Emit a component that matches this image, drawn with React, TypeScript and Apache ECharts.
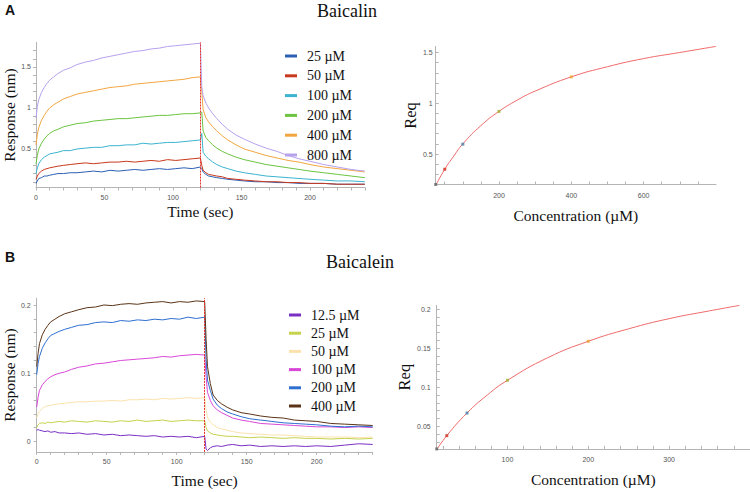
import React, { useEffect, useRef } from "react";
import * as echarts from "echarts";

// ---------- shared time axis of the sensorgrams (sec) ----------
const TIME = [0, 1, 2, 4, 6, 8, 10, 13, 16, 20, 25, 30, 36, 42, 48, 54, 60, 66, 72, 78, 84, 90, 96, 102, 108, 114, 120,
  121, 122, 124, 126, 129, 132, 136, 140, 146, 152, 160, 168, 176, 184, 192, 200, 210, 220, 230, 240];

// ---------- A: Baicalin sensorgram (nm) ----------
const A_NAMES = ["25 µM", "50 µM", "100 µM", "200 µM", "400 µM", "800 µM"];
const A_COLORS = ["#2b5fb4", "#c8381c", "#3cb4cf", "#6cc440", "#f2a640", "#b7a2ee"];
const A_25 = [0.08, 0.11, 0.14, 0.15, 0.17, 0.17, 0.18, 0.19, 0.20, 0.20, 0.21, 0.21, 0.22, 0.23, 0.22, 0.24, 0.23, 0.24, 0.25, 0.24, 0.25, 0.26, 0.25, 0.26, 0.27, 0.26, 0.28,
  0.26, 0.22, 0.19, 0.17, 0.16, 0.15, 0.14, 0.13, 0.12, 0.11, 0.10, 0.10, 0.09, 0.09, 0.08, 0.08, 0.08, 0.07, 0.07, 0.07];
const A_50 = [0.13, 0.17, 0.20, 0.23, 0.25, 0.26, 0.27, 0.28, 0.29, 0.30, 0.31, 0.32, 0.33, 0.32, 0.33, 0.34, 0.34, 0.35, 0.34, 0.35, 0.36, 0.35, 0.37, 0.36, 0.37, 0.38, 0.39,
  0.30, 0.24, 0.21, 0.19, 0.18, 0.17, 0.16, 0.14, 0.13, 0.12, 0.11, 0.10, 0.10, 0.09, 0.09, 0.08, 0.08, 0.07, 0.07, 0.07];
const A_100 = [0.20, 0.27, 0.32, 0.37, 0.40, 0.42, 0.44, 0.45, 0.46, 0.48, 0.48, 0.50, 0.51, 0.52, 0.52, 0.54, 0.54, 0.55, 0.55, 0.57, 0.56, 0.57, 0.58, 0.58, 0.59, 0.60, 0.61,
  0.69, 0.46, 0.41, 0.38, 0.34, 0.31, 0.28, 0.26, 0.23, 0.21, 0.19, 0.17, 0.16, 0.15, 0.14, 0.13, 0.12, 0.11, 0.11, 0.10];
const A_200 = [0.32, 0.42, 0.50, 0.57, 0.62, 0.66, 0.69, 0.72, 0.74, 0.77, 0.79, 0.81, 0.82, 0.84, 0.85, 0.86, 0.87, 0.87, 0.88, 0.89, 0.90, 0.91, 0.91, 0.92, 0.93, 0.93, 0.94,
  0.95, 0.72, 0.64, 0.60, 0.55, 0.51, 0.47, 0.44, 0.40, 0.37, 0.34, 0.31, 0.29, 0.27, 0.25, 0.23, 0.21, 0.19, 0.17, 0.15];
const A_400 = [0.55, 0.68, 0.76, 0.85, 0.91, 0.96, 1.00, 1.04, 1.07, 1.11, 1.14, 1.17, 1.19, 1.21, 1.23, 1.25, 1.26, 1.27, 1.29, 1.30, 1.31, 1.32, 1.33, 1.34, 1.35, 1.37, 1.38,
  1.20, 0.98, 0.88, 0.83, 0.77, 0.72, 0.66, 0.61, 0.55, 0.50, 0.46, 0.42, 0.39, 0.36, 0.34, 0.31, 0.28, 0.26, 0.24, 0.22];
const A_800 = [0.88, 1.02, 1.10, 1.19, 1.25, 1.30, 1.34, 1.38, 1.42, 1.46, 1.49, 1.53, 1.56, 1.58, 1.61, 1.63, 1.65, 1.67, 1.69, 1.70, 1.72, 1.73, 1.75, 1.76, 1.77, 1.78, 1.79,
  1.26, 1.15, 1.06, 1.00, 0.93, 0.87, 0.80, 0.74, 0.67, 0.62, 0.56, 0.51, 0.47, 0.42, 0.38, 0.35, 0.31, 0.28, 0.25, 0.23];
const A_SERIES = [A_25, A_50, A_100, A_200, A_400, A_800];

// ---------- B: Baicalein sensorgram (nm) ----------
const B_NAMES = ["12.5 µM", "25 µM", "50 µM", "100 µM", "200 µM", "400 µM"];
const B_COLORS = ["#7a2fc4", "#c4d24c", "#fbe2ac", "#d848d8", "#2e6fcf", "#5b3417"];
const B_12 = [0.016, 0.017, 0.016, 0.015, 0.014, 0.015, 0.013, 0.014, 0.012, 0.012, 0.011, 0.012, 0.010, 0.011, 0.009, 0.010, 0.008, 0.009, 0.008, 0.007, 0.008, 0.006, 0.007, 0.006, 0.007, 0.005, 0.007,
  -0.012, -0.014, -0.010, -0.008, -0.007, -0.008, -0.006, -0.005, -0.007, -0.006, -0.008, -0.007, -0.008, -0.007, -0.008, -0.007, -0.008, -0.006, -0.004, -0.005];
const B_25 = [0.020, 0.024, 0.026, 0.027, 0.026, 0.028, 0.027, 0.028, 0.029, 0.028, 0.030, 0.029, 0.028, 0.030, 0.029, 0.028, 0.030, 0.029, 0.031, 0.029, 0.030, 0.031, 0.029, 0.030, 0.031, 0.030, 0.030,
  0.020, 0.015, 0.012, 0.010, 0.009, 0.008, 0.007, 0.007, 0.006, 0.005, 0.006, 0.005, 0.004, 0.005, 0.004, 0.004, 0.003, 0.004, 0.003, 0.004];
const B_50 = [0.034, 0.040, 0.044, 0.048, 0.051, 0.052, 0.053, 0.054, 0.055, 0.056, 0.057, 0.058, 0.058, 0.059, 0.059, 0.060, 0.059, 0.061, 0.061, 0.062, 0.061, 0.063, 0.062, 0.063, 0.064, 0.063, 0.064,
  0.045, 0.035, 0.028, 0.024, 0.020, 0.018, 0.016, 0.014, 0.012, 0.011, 0.010, 0.009, 0.009, 0.008, 0.007, 0.006, 0.006, 0.006, 0.005, 0.006];
const B_100 = [0.050, 0.065, 0.075, 0.083, 0.088, 0.092, 0.095, 0.098, 0.100, 0.102, 0.106, 0.109, 0.111, 0.114, 0.115, 0.117, 0.119, 0.120, 0.121, 0.122, 0.123, 0.125, 0.124, 0.126, 0.127, 0.128, 0.127,
  0.095, 0.072, 0.060, 0.052, 0.046, 0.042, 0.038, 0.034, 0.031, 0.029, 0.026, 0.025, 0.024, 0.023, 0.022, 0.021, 0.021, 0.020, 0.021, 0.020];
const B_200 = [0.098, 0.115, 0.125, 0.137, 0.145, 0.151, 0.156, 0.159, 0.162, 0.165, 0.168, 0.171, 0.172, 0.175, 0.176, 0.175, 0.178, 0.177, 0.179, 0.178, 0.180, 0.179, 0.181, 0.180, 0.183, 0.181, 0.183,
  0.120, 0.090, 0.075, 0.062, 0.053, 0.048, 0.043, 0.040, 0.036, 0.033, 0.031, 0.029, 0.027, 0.026, 0.025, 0.024, 0.022, 0.021, 0.022, 0.021];
const B_400 = [0.110, 0.130, 0.144, 0.157, 0.165, 0.171, 0.176, 0.180, 0.184, 0.188, 0.191, 0.194, 0.197, 0.198, 0.201, 0.200, 0.202, 0.203, 0.202, 0.204, 0.205, 0.206, 0.204, 0.206, 0.205, 0.207, 0.206,
  0.150, 0.110, 0.085, 0.068, 0.060, 0.055, 0.050, 0.046, 0.042, 0.040, 0.037, 0.035, 0.034, 0.031, 0.030, 0.029, 0.026, 0.025, 0.024, 0.023];
const B_SERIES = [B_12, B_25, B_50, B_100, B_200, B_400];

// ---------- Req vs concentration ----------
const A_CONC = [25, 50, 100, 200, 400];
const A_REQ = [0.2, 0.35, 0.597, 0.92, 1.26];
const A_FIT_X = [25, 50, 75, 100, 150, 200, 250, 300, 400, 500, 600, 700, 800];
const A_FIT_Y = [0.19, 0.35, 0.48, 0.6, 0.78, 0.92, 1.03, 1.12, 1.26, 1.36, 1.44, 1.5, 1.56];
const B_CONC = [12.5, 25, 50, 100, 200];
const B_REQ = [0.021, 0.038, 0.067, 0.109, 0.159];
const B_FIT_X = [12.5, 25, 50, 75, 100, 150, 200, 250, 300, 350, 387];
const B_FIT_Y = [0.02, 0.038, 0.067, 0.09, 0.109, 0.138, 0.159, 0.175, 0.188, 0.198, 0.205];
const POINT_COLORS = ["#666666", "#d03020", "#4a7ea8", "#a0b030", "#f0a030"];

// ---------- tick labels ----------
const TIME_LABELS = [0, 50, 100, 150, 200];
const A_RESP_LABELS = [0.5, 1, 1.5];
const B_RESP_LABELS = [0, 0.1, 0.2];
const A_CONC_LABELS = [200, 400, 600];
const A_REQ_LABELS = [0.5, 1, 1.5];
const B_CONC_LABELS = [100, 200, 300];
const B_REQ_LABELS = [0.05, 0.1, 0.15, 0.2];

const steps = (a: number, b: number, d: number) => {
  const out: number[] = [];
  const n = Math.round((b - a) / d);
  for (let i = 0; i <= n; i++) out.push(+(a + i * d).toFixed(4));
  return out;
};

const SERIF = "'Liberation Serif', 'Times New Roman', serif";
const SANS = "'Liberation Sans', Arial, sans-serif";
const AXIS_GRAY = "#b4b4b4";

export default function App() {
  const ref = useRef<HTMLDivElement>(null);

  useEffect(() => {
    if (!ref.current) return;
    const chart = echarts.init(ref.current, undefined, { renderer: "svg" });

    const nameStyle = { fontFamily: SERIF, fontSize: 15.5, color: "#111" };
    const valueAxis = (o: any) => ({
      type: "value",
      gridIndex: o.grid,
      min: o.min,
      max: o.max,
      splitLine: { show: false },
      axisLine: { show: true, onZero: false, lineStyle: { color: AXIS_GRAY, width: 1 } },
      axisTick: { show: true, customValues: o.ticks, length: 3, inside: !!o.inside, lineStyle: { color: AXIS_GRAY } },
      axisLabel: {
        show: true,
        customValues: o.labels,
        fontSize: 7,
        color: "#555",
        fontFamily: SANS,
        margin: o.margin,
      },
      name: o.name,
      nameLocation: "middle",
      nameGap: o.nameGap,
      nameRotate: o.rotate,
      nameTextStyle: { ...nameStyle, fontSize: o.nameSize || 15.5 },
    });

    const sensor = (names: string[], colors: string[], vals: number[][], prefix: string, axis: number) =>
      vals.map((v, k) => ({
        type: "line",
        name: prefix + "|" + names[k],
        xAxisIndex: axis,
        yAxisIndex: axis,
        data: TIME.map((t, i) => [t, v[i]]),
        showSymbol: false,
        symbol: "none",
        lineStyle: { width: 1, color: colors[k] },
        itemStyle: { color: colors[k] },
        z: 2,
        markLine:
          k === 0
            ? {
                silent: true,
                symbol: ["none", "none"],
                label: { show: false },
                lineStyle: { color: "#e8302a", type: [2, 1], width: 1 },
                data: [{ xAxis: 120 }],
                z: 5,
              }
            : undefined,
      }));

    const fit = (xs: number[], ys: number[], axis: number) => ({
      type: "line",
      name: "fit" + axis,
      xAxisIndex: axis,
      yAxisIndex: axis,
      data: xs.map((x, i) => [x, ys[i]]),
      smooth: true,
      showSymbol: false,
      symbol: "none",
      lineStyle: { width: 1, color: "#f06a6a" },
    });
    const pts = (xs: number[], ys: number[], axis: number) => ({
      type: "scatter",
      name: "pts" + axis,
      xAxisIndex: axis,
      yAxisIndex: axis,
      symbol: "rect",
      symbolSize: 3,
      data: xs.map((x, i) => ({ value: [x, ys[i]], itemStyle: { color: POINT_COLORS[i] } })),
      z: 4,
    });

    const legend = (names: string[], prefix: string, left: number, top: number, gap: number) => ({
      orient: "vertical",
      left,
      top,
      itemWidth: 12,
      itemHeight: 3,
      itemGap: gap,
      icon: "rect",
      selectedMode: false,
      data: names.map((n) => prefix + "|" + n),
      formatter: (name: string) => name.split("|")[1],
      textStyle: { fontFamily: SERIF, fontSize: 14, lineHeight: 14, color: "#111", padding: [0, 0, 0, 5] },
    });

    const option: any = {
      animation: false,
      backgroundColor: "#ffffff",
      grid: [
        { left: 36, top: 42.4, width: 328.8, height: 145.1 },
        { left: 435.7, top: 46.4, width: 280.3, height: 138.1 },
        { left: 36.7, top: 298.2, width: 336, height: 153.7 },
        { left: 436.7, top: 305.4, width: 313.9, height: 143.5 },
      ],
      xAxis: [
        valueAxis({ grid: 0, min: 0, max: 240, ticks: steps(0, 240, 10), labels: TIME_LABELS, margin: 6, name: "Time (sec)", nameGap: 16 }),
        valueAxis({ grid: 1, min: 25, max: 800, ticks: steps(50, 750, 50), labels: A_CONC_LABELS, margin: 7, name: "Concentration (µM)", nameGap: 23, inside: true }),
        valueAxis({ grid: 2, min: 0, max: 240, ticks: steps(0, 240, 10), labels: TIME_LABELS, margin: 6, name: "Time (sec)", nameGap: 21 }),
        valueAxis({ grid: 3, min: 12.5, max: 400, ticks: steps(20, 400, 20), labels: B_CONC_LABELS, margin: 7, name: "Concentration (µM)", nameGap: 23, inside: true }),
      ],
      yAxis: [
        valueAxis({ grid: 0, min: 0.03, max: 1.8, ticks: steps(0.1, 1.7, 0.1), labels: A_RESP_LABELS, margin: 5, name: "Response (nm)", nameGap: 16, rotate: 90 }),
        valueAxis({ grid: 1, min: 0.2, max: 1.56, ticks: steps(0.3, 1.5, 0.1), labels: A_REQ_LABELS, margin: 3, name: "Req", nameGap: 15, rotate: 90, inside: true, nameSize: 16.5 }),
        valueAxis({ grid: 2, min: -0.016, max: 0.211, ticks: steps(0, 0.2, 0.02), labels: B_RESP_LABELS, margin: 6, name: "Response (nm)", nameGap: 17, rotate: 90 }),
        valueAxis({ grid: 3, min: 0.021, max: 0.205, ticks: steps(0.03, 0.2, 0.01), labels: B_REQ_LABELS, margin: 6, name: "Req", nameGap: 20, rotate: 90, inside: true, nameSize: 16.5 }),
      ],
      legend: [legend(A_NAMES, "A", 280, 44, 5.8), legend(B_NAMES, "B", 284, 303, 4.2)],
      series: [
        ...sensor(A_NAMES, A_COLORS, A_SERIES, "A", 0),
        ...sensor(B_NAMES, B_COLORS, B_SERIES, "B", 2),
        fit(A_FIT_X, A_FIT_Y, 1),
        pts(A_CONC, A_REQ, 1),
        fit(B_FIT_X, B_FIT_Y, 3),
        pts(B_CONC, B_REQ, 3),
      ],
      graphic: [
        { type: "text", left: 5, top: 3, style: { text: "A", font: `bold 14px ${SANS}`, fill: "#111" } },
        { type: "text", x: 347, y: 11, style: { text: "Baicalin", font: `18px ${SERIF}`, fill: "#111", textAlign: "center", textVerticalAlign: "middle" } },
        { type: "text", left: 5, top: 250, style: { text: "B", font: `bold 14px ${SANS}`, fill: "#111" } },
        { type: "text", x: 360, y: 261.5, style: { text: "Baicalein", font: `18px ${SERIF}`, fill: "#111", textAlign: "center", textVerticalAlign: "middle" } },
      ],
    };

    chart.setOption(option);
    return () => chart.dispose();
  }, []);

  return (
    <div
      ref={ref}
      style={{ position: "fixed", left: 0, top: 0, width: 750, height: 492, background: "#fff" }}
    />
  );
}
